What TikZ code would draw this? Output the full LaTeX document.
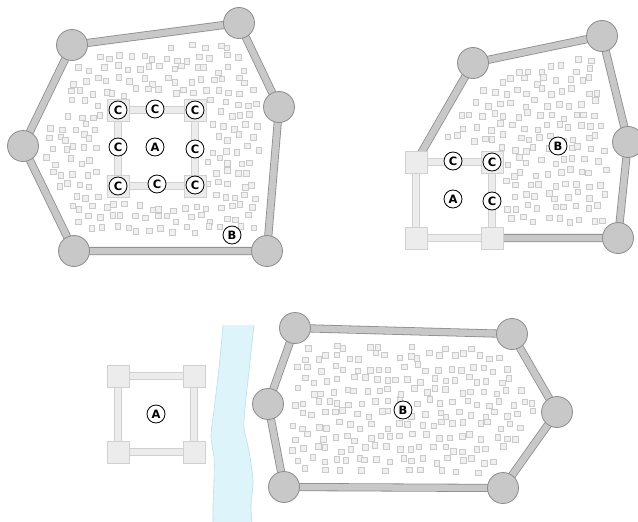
\documentclass[tikz,border=0pt]{standalone}
\usepackage{fontspec}
\setmainfont{DejaVu Sans}
\usetikzlibrary{backgrounds}

\definecolor{wallfill}{HTML}{C8C8C8}
\definecolor{wallline}{HTML}{8C8C8C}
\definecolor{lightfill}{HTML}{ECECEC}
\definecolor{lightline}{HTML}{D0D0D0}
\definecolor{bitfill}{HTML}{F0F0F0}
\definecolor{bitline}{HTML}{CACACA}
\definecolor{riverfill}{HTML}{DDF5FA}
\definecolor{riverline}{HTML}{BEDDE6}

\tikzset{
  wall/.style={draw=wallline, line width=0.8pt, double=wallfill, double distance=6.5pt},
  lightwall/.style={draw=lightline, line width=0.8pt, double=lightfill, double distance=5.5pt},
  tower/.style={circle, draw=wallline, fill=wallfill, minimum size=31pt, inner sep=0pt, line width=0.8pt},
  corner/.style={rectangle, draw=lightline, fill=lightfill, minimum size=22pt, inner sep=0pt, line width=0.8pt},
  tag/.style={circle, draw=black, fill=white, minimum size=18pt, inner sep=0pt, line width=0.8pt,
    font=\fontsize{11.5}{12}\selectfont\bfseries},
  bit/.style={rectangle, draw=bitline, fill=bitfill, minimum size=5.5pt, inner sep=0pt, line width=0.6pt},
}

% houses on a jittered grid, kept inside the walls
% #1 columns, #2 rows, #3 wall edges, #4 keep-out test, #5 name
\newcommand\scatterbits[5]{%
  \foreach \gx in {#1}{%
    \foreach \gy in {#2}{%
      \pgfmathsetmacro\px{\gx*11.5+mod(\gy,2)*5.7+3.8*rand}%
      \pgfmathsetmacro\py{\gy*11.5+3.8*rand}%
      \xdef\dmin{100}%
      \foreach \ax/\ay/\bx/\by in {#3}{%
        \pgfmathsetmacro\len{10*veclen((\bx-\ax)/10,(\by-\ay)/10)}%
        \pgfmathsetmacro\dist{min((\bx-\ax)/\len*(\py-\ay)-(\by-\ay)/\len*(\px-\ax),10*veclen((\px-\ax)/10,(\py-\ay)/10)-8)}%
        \pgfmathsetmacro\dmin{min(\dmin,\dist)}%
        \xdef\dmin{\dmin}%
      }%
      \pgfmathsetmacro\drop{#4}%
      \ifdim\dmin pt>15pt\relax
        \ifdim\drop pt<0.5pt\relax
          \node[bit] (bit-#5-\gx-\gy) at (\px,\py) {};%
        \fi
      \fi
    }%
  }%
}

\begin{document}
\begin{tikzpicture}[x=1pt,y=-1pt]
\useasboundingbox (0,0) rectangle (638,522);
\pgfmathsetseed{11}

% top left: A inside B
\node[tower] (tl1) at (72,45) {};
\node[tower] (tl2) at (239,23) {};
\node[tower] (tl3) at (279,107) {};
\node[tower] (tl4) at (267,251) {};
\node[tower] (tl5) at (74,251) {};
\node[tower] (tl6) at (23,146) {};
\node[corner] (ta1) at (118,110) {};
\node[corner] (ta2) at (195,110) {};
\node[corner] (ta3) at (195,186) {};
\node[corner] (ta4) at (118,186) {};
\node[tag] (tc1) at (118,110) {C};
\node[tag] (tc2) at (155,109) {C};
\node[tag] (tc3) at (195,110) {C};
\node[tag] (tc4) at (118,147) {C};
\node[tag] (tc5) at (195,149) {C};
\node[tag] (tc6) at (118,186) {C};
\node[tag] (tc7) at (157,184) {C};
\node[tag] (tc8) at (195,185) {C};
\node[tag] (tA) at (155,147) {A};
\node[tag] (tB) at (232,235) {B};

% top right: A in the corner of B
\node[tower] (tr1) at (473,63) {};
\node[tower] (tr2) at (602,36) {};
\node[tower] (tr3) at (628,142) {};
\node[tower] (tr4) at (618,238) {};
\node[corner] (ra1) at (416,162) {};
\node[corner] (ra2) at (492,162) {};
\node[corner] (ra3) at (492,238) {};
\node[corner] (ra4) at (416,238) {};
\node[tag] (rc1) at (453,161) {C};
\node[tag] (rc2) at (492,162) {C};
\node[tag] (rc3) at (492,201) {C};
\node[tag] (rA) at (453,199) {A};
\node[tag] (rB) at (558,146) {B};

% bottom: A across the river from B
\node[corner] (ba1) at (118,376) {};
\node[corner] (ba2) at (194,376) {};
\node[corner] (ba3) at (194,452) {};
\node[corner] (ba4) at (118,452) {};
\node[tag] (bA) at (156,414) {A};
\node[tower] (bt1) at (295,328) {};
\node[tower] (bt2) at (512,334) {};
\node[tower] (bt3) at (557,412) {};
\node[tower] (bt4) at (503,488) {};
\node[tower] (bt5) at (284,487) {};
\node[tower] (bt6) at (268,404) {};
\node[tag] (bB) at (403,410) {B};

\begin{scope}[on background layer]
\fill[white] (0,0) rectangle (638,522);
% river
\fill[riverfill] plot[smooth] coordinates {(223,325) (219,368) (214,410) (211,436) (214,458) (214,480) (213,505) (213,524)}
  -- plot[smooth] coordinates {(252,524) (251,505) (253,481) (249,451) (244,428) (245,408) (249,371) (254,325)} -- cycle;
\draw[riverline, line width=0.6pt] plot[smooth] coordinates {(223,325) (219,368) (214,410) (211,436) (214,458) (214,480) (213,505) (213,524)};
\draw[riverline, line width=0.6pt] plot[smooth] coordinates {(252,524) (251,505) (253,481) (249,451) (244,428) (245,408) (249,371) (254,325)};

% houses
\scatterbits{1,...,25}{1,...,22}{72/45/239/23, 239/23/279/107, 279/107/267/251, 267/251/74/251, 74/251/23/146, 23/146/72/45}{(\px>100)*(\px<206)*(\py>96)*(\py<201)}{tl}
\scatterbits{34,...,55}{2,...,21}{416/162/473/63, 473/63/602/36, 602/36/628/142, 628/142/618/238, 618/238/492/238, 492/238/416/162}{(\px<505)*(\py>149)}{tr}
\scatterbits{21,...,49}{27,...,43}{295/328/512/334, 512/334/557/412, 557/412/503/488, 503/488/284/487, 284/487/268/404, 268/404/295/328}{0}{bt}

% walls
\draw[lightwall] (ta1.center) -- (ta2.center) -- (ta3.center) -- (ta4.center) -- cycle;
\draw[wall] (tl1.center) -- (tl2.center) -- (tl3.center) -- (tl4.center) -- (tl5.center) -- (tl6.center) -- cycle;
\draw[lightwall] (ra1.center) -- (ra2.center) -- (ra3.center) -- (ra4.center) -- cycle;
\draw[wall] (ra1.center) -- (tr1.center) -- (tr2.center) -- (tr3.center) -- (tr4.center) -- (ra3.center);
\draw[lightwall] (ba1.center) -- (ba2.center) -- (ba3.center) -- (ba4.center) -- cycle;
\draw[wall] (bt1.center) -- (bt2.center) -- (bt3.center) -- (bt4.center) -- (bt5.center) -- (bt6.center) -- cycle;
\end{scope}
\end{tikzpicture}
\end{document}
